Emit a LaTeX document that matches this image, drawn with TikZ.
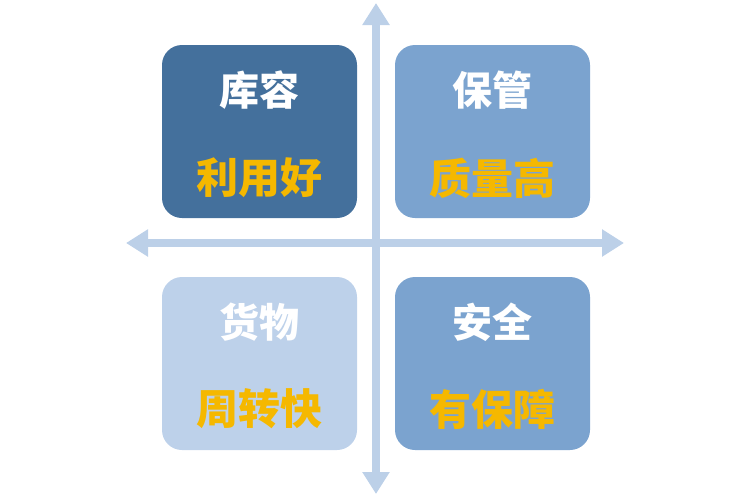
\documentclass[tikz,border=0pt]{standalone}
\usepackage{fontspec}
\newfontfamily\cjk{Noto Sans CJK SC}
\usetikzlibrary{arrows.meta}
\definecolor{axis}{RGB}{188,208,232}
\definecolor{dark}{RGB}{68,112,156}
\definecolor{mid}{RGB}{123,163,207}
\definecolor{light}{RGB}{189,209,234}
\definecolor{gold}{RGB}{245,184,0}
\tikzset{
  quad/.style={rounded corners=20pt, minimum width=195pt, minimum height=173pt, inner sep=0pt},
  ttl/.style={text=white, font=\cjk\bfseries\fontsize{40}{42}\selectfont},
  sub/.style={text=gold, font=\cjk\bfseries\fontsize{42}{44}\selectfont},
  ax/.style={draw=axis, line width=8pt, -{Triangle[width=26pt,length=22pt]}}
}
\begin{document}
\begin{tikzpicture}[x=1pt,y=-1pt]
\useasboundingbox (0,0) rectangle (751,496);
\coordinate (top) at (376,3);
\coordinate (bot) at (376,494);
\coordinate (left) at (126,243);
\coordinate (right) at (624,243);
\coordinate (c) at (376,243);
\draw[ax] (c) -- (top);
\draw[ax] (c) -- (bot);
\draw[ax] (c) -- (left);
\draw[ax] (c) -- (right);
\node[quad, fill=dark] (q1) at (259.5,131.5) {};
\node[quad, fill=mid] (q2) at (492.5,131.5) {};
\node[quad, fill=light] (q3) at (259.5,363.5) {};
\node[quad, fill=mid] (q4) at (492.5,363.5) {};
\node[ttl] (t1) at (259.5,90) {库容};
\node[sub] (s1) at (259.5,178) {利用好};
\node[ttl] (t2) at (492.5,90) {保管};
\node[sub] (s2) at (492.5,178) {质量高};
\node[ttl] (t3) at (259.5,322) {货物};
\node[sub] (s3) at (259.5,409) {周转快};
\node[ttl] (t4) at (492.5,322) {安全};
\node[sub] (s4) at (492.5,409) {有保障};
\end{tikzpicture}
\end{document}
